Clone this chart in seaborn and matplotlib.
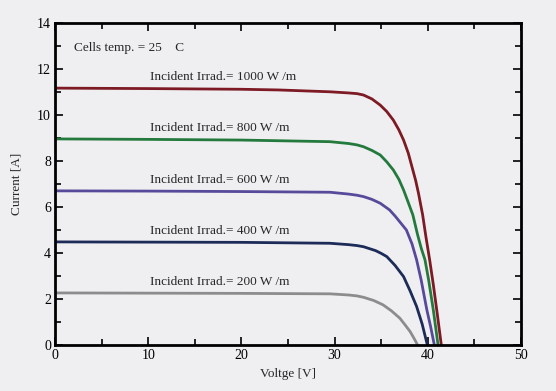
import pandas as pd
import seaborn as sns
import matplotlib.pyplot as plt
from matplotlib.ticker import MultipleLocator

# I-V curves, one pair of lists per irradiance
v_1000 = [0, 10, 20, 24, 29.5, 31.5, 32.4, 33.1, 34.0, 34.9, 35.6, 36.3, 36.9, 37.4, 37.9,
          38.3, 38.7, 39.0, 39.45, 39.8, 40.2, 40.6, 41.0, 41.45]
i_1000 = [11.17, 11.15, 11.12, 11.09, 11.01, 10.96, 10.93, 10.87, 10.7, 10.43, 10.15, 9.78, 9.35,
          8.91, 8.35, 7.75, 7.15, 6.6, 5.65, 4.7, 3.7, 2.6, 1.4, 0.0]

v_800 = [0, 10, 20, 29.5, 31.5, 32.4, 33.1, 34.0, 34.9, 35.6, 36.3, 36.9, 37.4, 37.9, 38.4,
         38.9, 39.3, 39.7, 40.1, 40.6, 41.1]
i_800 = [8.96, 8.94, 8.91, 8.84, 8.76, 8.70, 8.62, 8.46, 8.26, 7.96, 7.61, 7.2, 6.74, 6.2, 5.65,
         4.8, 4.2, 3.7, 2.8, 1.5, 0.0]

v_600 = [0, 10, 20, 29.5, 31.5, 32.4, 33.1, 34.0, 34.9, 35.9, 36.5, 37.1, 37.7, 38.3, 38.8,
         39.3, 39.9, 40.3, 40.7]
i_600 = [6.70, 6.69, 6.67, 6.64, 6.56, 6.51, 6.45, 6.33, 6.16, 5.87, 5.6, 5.3, 5.0, 4.4, 3.7,
         2.8, 1.52, 0.8, 0.0]

v_400 = [0, 10, 20, 29.5, 31.5, 32.4, 33.1, 34.4, 35.0, 35.6, 36.5, 37.4, 38.1, 38.8, 39.4, 39.95]
i_400 = [4.48, 4.47, 4.46, 4.42, 4.36, 4.32, 4.27, 4.1, 3.98, 3.84, 3.45, 2.97, 2.35, 1.67, 0.9, 0.0]

v_200 = [0, 10, 20, 29.5, 31.5, 32.4, 33.1, 34.2, 35.2, 36.1, 37.0, 37.6, 38.1, 38.5, 38.9]
i_200 = [2.26, 2.25, 2.24, 2.22, 2.17, 2.13, 2.07, 1.93, 1.74, 1.48, 1.16, 0.85, 0.58, 0.3, 0.0]

irradiances = [1000, 800, 600, 400, 200]
label_current = [11.17, 8.96, 6.70, 4.48, 2.26]
colors = ["#7d1a24", "#237a3c", "#574a9a", "#1c2b57", "#8c8c8c"]

curves = [(v_1000, i_1000), (v_800, i_800), (v_600, i_600), (v_400, i_400), (v_200, i_200)]
frames = []
for g, (v, i) in zip(irradiances, curves):
    frames.append(pd.DataFrame({"voltage": v, "current": i, "irrad": g}))
df = pd.concat(frames, ignore_index=True)

bg = "#efeff2"
sns.set_style("ticks", {"axes.facecolor": bg, "figure.facecolor": bg,
                        "xtick.direction": "in", "ytick.direction": "in"})
plt.rcParams["font.family"] = ["Liberation Serif", "DejaVu Serif"]

fig, ax = plt.subplots(figsize=(5.56, 3.91), dpi=100)
fig.subplots_adjust(left=0.099, right=0.937, top=0.941, bottom=0.118)

sns.lineplot(data=df, x="voltage", y="current", hue="irrad", hue_order=irradiances,
             palette=colors, linewidth=2.0, legend=False, ax=ax,
             solid_joinstyle="round", solid_capstyle="round")

for g, y in zip(irradiances, label_current):
    ax.text(10.2, y + 0.22, f"Incident Irrad.= {g} W /m", fontsize=9.5, ha="left", va="bottom")
ax.text(2.0, 12.9, "Cells temp. = 25    C", fontsize=9.5, ha="left", va="center")

ax.set_xlim(0, 50)
ax.set_ylim(0, 14)
ax.xaxis.set_major_locator(MultipleLocator(10))
ax.xaxis.set_minor_locator(MultipleLocator(5))
ax.yaxis.set_major_locator(MultipleLocator(2))
ax.yaxis.set_minor_locator(MultipleLocator(1))
ax.tick_params(which="both", top=True, right=True, labelsize=10, width=1.2, colors="black")
ax.tick_params(which="major", length=6, pad=3)
ax.tick_params(which="minor", length=4)
for s in ax.spines.values():
    s.set_linewidth(2)
    s.set_color("black")

ax.set_xlabel("Voltge [V]", fontsize=9.5, labelpad=4)
ax.set_ylabel("Current [A]", fontsize=9.5, labelpad=10)

fig.savefig("out.png", dpi=100, facecolor=bg)
